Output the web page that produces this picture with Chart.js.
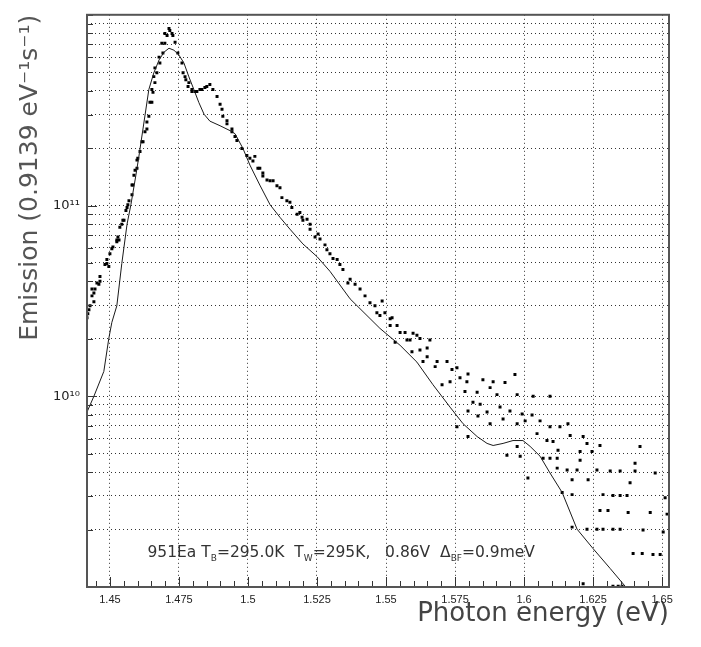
<!DOCTYPE html>
<html>
<head>
<meta charset="utf-8">
<script src="https://cdn.jsdelivr.net/npm/chart.js@4.4.0/dist/chart.umd.min.js"></script>
<style>
  html, body { margin: 0; padding: 0; background: #fff; }
</style>
</head>
<body>
<canvas id="myChart" width="701" height="647"></canvas>
<script>
// DATA -----------------------------------------------------------------START
// measured spectrum (dots): photon energy in eV, emission in 0.9139 eV^-1 s^-1
var measE = [
  1.4417, 1.4420, 1.4424, 1.4428, 1.4435, 1.4435, 1.4442, 1.4442, 1.4446, 1.4453,
  1.4460, 1.4464, 1.4464, 1.4482, 1.4489, 1.4489, 1.4496, 1.4500, 1.4507, 1.4511,
  1.4525, 1.4525, 1.4529, 1.4533, 1.4536, 1.4543, 1.4547, 1.4551, 1.4558, 1.4562,
  1.4565, 1.4569, 1.4580, 1.4580, 1.4583, 1.4587, 1.4591, 1.4598, 1.4598, 1.4601,
  1.4609, 1.4616, 1.4620, 1.4627, 1.4634, 1.4634, 1.4641, 1.4645, 1.4652, 1.4652,
  1.4656, 1.4659, 1.4663, 1.4663, 1.4670, 1.4678, 1.4681, 1.4688, 1.4692, 1.4699,
  1.4699, 1.4707, 1.4714, 1.4717, 1.4725, 1.4728, 1.4736, 1.4746, 1.4761, 1.4765,
  1.4772, 1.4775, 1.4783, 1.4786, 1.4797, 1.4797, 1.4808, 1.4815, 1.4826, 1.4833,
  1.4844, 1.4851, 1.4862, 1.4873, 1.4888, 1.4899, 1.4906, 1.4909, 1.4924, 1.4924,
  1.4942, 1.4942, 1.4953, 1.4960, 1.4978, 1.4996, 1.5018, 1.5025, 1.5036, 1.5054,
  1.5054, 1.5080, 1.5091, 1.5105, 1.5123, 1.5141, 1.5159, 1.5178, 1.5196, 1.5199,
  1.5225, 1.5225, 1.5243, 1.5254, 1.5261, 1.5286, 1.5297, 1.5308, 1.5323, 1.5344,
  1.5362, 1.5370, 1.5406, 1.5442, 1.5467, 1.5486, 1.5496, 1.5515, 1.5515, 1.5522,
  1.5533, 1.5540, 1.5551, 1.5569, 1.5576, 1.5587, 1.5594, 1.5598, 1.5612, 1.5623,
  1.5623, 1.5634, 1.5649, 1.5649, 1.5659, 1.5678, 1.5685, 1.5703, 1.5721, 1.5732,
  1.5739, 1.5757, 1.5757, 1.5768, 1.5786, 1.5793, 1.5797, 1.5797, 1.5797, 1.5815,
  1.5830, 1.5833, 1.5841, 1.5851, 1.5866, 1.5877, 1.5877, 1.5888, 1.5902, 1.5913,
  1.5924, 1.5931, 1.5938, 1.5949, 1.5967, 1.5975, 1.5975, 1.5975, 1.5986, 1.5993,
  1.6004, 1.6014, 1.6029, 1.6033, 1.6047, 1.6058, 1.6069, 1.6083, 1.6094, 1.6094,
  1.6094, 1.6105, 1.6120, 1.6120, 1.6123, 1.6130, 1.6138, 1.6156, 1.6159, 1.6167,
  1.6174, 1.6174, 1.6174, 1.6192, 1.6203, 1.6203, 1.6214, 1.6214, 1.6228, 1.6228,
  1.6232, 1.6246, 1.6264, 1.6264, 1.6275, 1.6275, 1.6286, 1.6286, 1.6304, 1.6312,
  1.6322, 1.6322, 1.6322, 1.6341, 1.6348, 1.6348, 1.6348, 1.6355, 1.6373, 1.6377,
  1.6384, 1.6395, 1.6402, 1.6402, 1.6420, 1.6428, 1.6431, 1.6457, 1.6467, 1.6475,
  1.6493, 1.6504, 1.6511, 1.6518,
  1.5007, 1.5043, 1.5069, 1.5116, 1.5152, 1.5188, 1.5214, 1.5279, 1.5333, 1.5388,
  1.5424, 1.5460, 1.5478
];
var measEm = [
  2.58e10, 2.71e10, 2.84e10, 2.98e10, 3.36e10, 3.65e10, 3.13e10, 3.48e10, 3.65e10, 3.92e10,
  3.87e10, 4.25e10, 4.01e10, 4.91e10, 5.21e10, 4.97e10, 4.79e10, 5.59e10, 5.93e10, 6.07e10,
  6.60e10, 6.45e10, 6.84e10, 6.60e10, 7.70e10, 7.98e10, 8.37e10, 8.37e10, 9.42e10, 9.76e10,
  1.01e11, 1.06e11, 1.14e11, 1.28e11, 1.28e11, 1.44e11, 1.53e11, 1.73e11, 1.57e11, 1.77e11,
  1.92e11, 2.16e11, 2.16e11, 2.44e11, 2.74e11, 2.52e11, 2.94e11, 3.48e11, 3.48e11, 4.06e11,
  3.92e11, 4.74e11, 4.41e11, 5.27e11, 4.97e11, 6.00e11, 5.59e11, 7.09e11, 6.30e11, 7.98e11,
  7.09e11, 7.79e11, 8.47e11, 8.27e11, 7.98e11, 7.79e11, 7.17e11, 6.30e11, 5.59e11, 4.97e11,
  4.74e11, 4.57e11, 4.21e11, 4.41e11, 4.06e11, 3.96e11, 3.96e11, 3.96e11, 4.06e11, 4.06e11,
  4.16e11, 4.21e11, 4.31e11, 4.06e11, 3.73e11, 3.40e11, 3.20e11, 2.94e11, 2.78e11, 2.68e11,
  2.52e11, 2.44e11, 2.30e11, 2.19e11, 1.99e11, 1.83e11, 1.71e11, 1.81e11, 1.57e11, 1.48e11,
  1.43e11, 1.35e11, 1.35e11, 1.27e11, 1.10e11, 1.06e11, 9.76e10, 8.99e10, 8.68e10, 8.37e10,
  7.98e10, 7.52e10, 6.84e10, 7.09e10, 6.68e10, 5.86e10, 5.59e10, 5.27e10, 5.21e10, 4.62e10,
  3.92e10, 4.11e10, 3.65e10, 3.09e10, 2.74e10, 3.16e10, 2.74e10, 2.55e10, 2.35e10, 2.58e10,
  1.92e10, 2.35e10, 2.16e10, 2.16e10, 1.97e10, 1.97e10, 1.71e10, 2.14e10, 2.09e10, 2.01e10,
  1.75e10, 1.52e10, 1.79e10, 1.61e10, 1.97e10, 1.43e10, 1.52e10, 1.15e10, 1.52e10, 1.19e10,
  1.38e10, 1.41e10, 6.92e9, 1.25e10, 1.06e10, 1.19e10, 1.31e10, 8.37e9, 6.15e9, 9.31e9,
  1.05e10, 7.88e9, 9.09e9, 1.22e10, 8.27e9, 1.11e10, 7.17e9, 1.19e10, 1.02e10, 8.78e9,
  7.61e9, 1.18e10, 4.91e9, 8.37e9, 1.30e10, 1.02e10, 7.17e9, 5.46e9, 4.85e9, 8.07e9,
  7.43e9, 3.73e9, 7.98e9, 1.00e10, 6.37e9, 7.43e9, 4.73e9, 5.86e9, 1.00e10, 6.92e9,
  4.73e9, 5.79e9, 4.73e9, 4.20e9, 5.21e9, 6.92e9, 3.13e9, 4.11e9, 7.17e9, 6.22e9,
  3.65e9, 3.05e9, 2.06e9, 4.11e9, 5.14e9, 4.62e9, 6.15e9, 1.04e9, 5.66e9, 2.01e9,
  3.65e9, 5.14e9, 4.11e9, 2.01e9, 5.52e9, 2.52e9, 3.05e9, 2.01e9, 2.52e9, 4.06e9,
  3.02e9, 2.01e9, 1.01e9, 1.01e9, 4.06e9, 3.02e9, 2.01e9, 1.01e9, 3.02e9, 2.46e9,
  3.52e9, 1.50e9, 4.46e9, 4.06e9, 5.46e9, 1.50e9, 1.99e9, 2.46e9, 1.48e9, 3.96e9,
  1.48e9, 1.94e9, 2.94e9, 2.41e9,
  1.77e11, 1.57e11, 1.36e11, 1.24e11, 1.04e11, 9.20e10, 8.47e10, 6.22e10, 4.91e10, 3.87e10,
  3.36e10, 2.98e10, 2.65e10
];

// model curve (solid line)
var modelE = [
  1.4417, 1.4442, 1.4478, 1.4496, 1.4507, 1.4525, 1.4543, 1.4562, 1.4576, 1.4594,
  1.4605, 1.4641, 1.4659, 1.4678, 1.4696, 1.4714, 1.4732, 1.4750, 1.4768, 1.4786,
  1.4804, 1.4822, 1.4841, 1.4862, 1.4899, 1.4935, 1.4953, 1.4982, 1.5007, 1.5043,
  1.5080, 1.5116, 1.5152, 1.5199, 1.5250, 1.5297, 1.5370, 1.5478, 1.5551, 1.5612,
  1.5670, 1.5732, 1.5779, 1.5830, 1.5866, 1.5888, 1.5924, 1.5960, 1.5996, 1.6022,
  1.6058, 1.6094, 1.6138, 1.6192, 1.6250, 1.6312, 1.6366
];
var modelEm = [
  8.27e9, 1.00e10, 1.35e10, 2.01e10, 2.44e10, 2.98e10, 4.96e10, 7.98e10, 1.01e11, 1.44e11,
  1.81e11, 4.06e11, 4.96e11, 5.80e11, 6.37e11, 6.68e11, 6.52e11, 6.15e11, 5.59e11, 4.73e11,
  4.06e11, 3.47e11, 3.01e11, 2.77e11, 2.62e11, 2.47e11, 2.38e11, 1.99e11, 1.63e11, 1.28e11,
  1.01e11, 8.67e10, 7.52e10, 6.29e10, 5.40e10, 4.52e10, 3.24e10, 2.27e10, 1.85e10, 1.51e10,
  1.15e10, 8.77e9, 7.18e9, 6.15e9, 5.66e9, 5.52e9, 5.66e9, 5.86e9, 5.86e9, 5.46e9,
  4.85e9, 3.96e9, 3.13e9, 2.01e9, 1.59e9, 1.25e9, 1.01e9
];

// axis ticks
var xTickValues = [1.45, 1.475, 1.5, 1.525, 1.55, 1.575, 1.6, 1.625, 1.65];
var yLabelValues = [1e10, 1e11];
var yLabelTexts = ['10\u00B9\u2070', '10\u00B9\u00B9'];
var yMantissa = [1, 2, 3, 4, 5, 6, 7, 8, 9];
var yDecades = [1e9, 1e10, 1e11];
// DATA -----------------------------------------------------------------END

var yGridValues = [];
yDecades.forEach(function (d) {
  yMantissa.forEach(function (m) { yGridValues.push(m * d); });
});
yGridValues.push(1e12);

function toPoints(xs, ys) {
  return xs.map(function (x, i) { return { x: x, y: ys[i] }; });
}

// ATUR BINGKAI, TICK DALAM, TEKS -----------------------------------------START
var bingkai = {
  id: 'bingkai',
  afterDatasetsDraw: function (chart) {
    var ctx = chart.ctx;
    var a = chart.chartArea;
    var sx = chart.scales.x;
    var sy = chart.scales.y;
    ctx.save();

    // inward ticks on bottom axis, every 0.005 eV
    ctx.strokeStyle = '#333';
    ctx.lineWidth = 1;
    ctx.beginPath();
    for (var k = 289; k <= 331; k++) {
      var px = Math.round(sx.getPixelForValue(k * 0.005)) + 0.5;
      if (px < a.left || px > a.right) continue;
      var len = (k % 5 === 0) ? 10 : 6;
      ctx.moveTo(px, a.bottom);
      ctx.lineTo(px, a.bottom - len);
    }
    // inward ticks on left axis
    yGridValues.forEach(function (v) {
      var py = Math.round(sy.getPixelForValue(v)) + 0.5;
      var l = yLabelValues.indexOf(v) >= 0 ? 10 : 6;
      ctx.moveTo(a.left, py);
      ctx.lineTo(a.left + l, py);
    });
    ctx.stroke();

    // run label with subscripts
    var parts = [
      ['951Ea T', 0], ['B', 1], ['=295.0K  T', 0], ['W', 1],
      ['=295K,   0.86V  \u0394', 0], ['BF', 1], ['=0.9meV', 0]
    ];
    var tx = sx.getPixelForValue(1.4636);
    var ty = sy.getPixelForValue(1.5e9);
    ctx.fillStyle = '#333';
    ctx.textBaseline = 'middle';
    ctx.textAlign = 'left';
    parts.forEach(function (p) {
      ctx.font = p[1] ? '9px "DejaVu Sans"' : '15.5px "DejaVu Sans"';
      ctx.fillText(p[0], tx, ty + (p[1] ? 5 : 0));
      tx += ctx.measureText(p[0]).width;
    });

    // frame
    ctx.strokeStyle = '#555';
    ctx.lineWidth = 2;
    ctx.strokeRect(a.left, a.top, a.right - a.left, a.bottom - a.top);
    ctx.restore();
  }
};
// ATUR BINGKAI, TICK DALAM, TEKS -----------------------------------------END

// ATUR DIAGRAM ----------------------------------------------------------START
var ctx = document.getElementById('myChart').getContext('2d');
var myChart = new Chart(ctx, {
  type: 'scatter',
  data: {
    datasets: [{
      label: 'model',
      data: toPoints(modelE, modelEm),
      showLine: true,
      borderColor: '#1a1a1a',
      borderWidth: 1,
      pointRadius: 0,
      tension: 0
    }, {
      label: 'measured',
      data: toPoints(measE, measEm),
      showLine: false,
      pointStyle: 'rect',
      pointRadius: 2.1,
      borderWidth: 0,
      backgroundColor: '#000'
    }]
  },
  options: {
    responsive: false,
    animation: false,
    events: [],
    layout: { padding: { top: 3, right: 32, left: 0, bottom: 0 } },
    plugins: {
      legend: { display: false },
      tooltip: { enabled: false }
    },
    scales: {
      x: {
        type: 'linear',
        min: 1.4417,
        max: 1.6525,
        afterBuildTicks: function (axis) {
          axis.ticks = xTickValues.map(function (v) { return { value: v }; });
        },
        afterFit: function (axis) { axis.height = 60; },
        ticks: {
          autoSkip: false,
          maxRotation: 0,
          padding: 6,
          color: '#222',
          font: { family: 'Liberation Sans', size: 11 },
          callback: function (value) { return String(value); }
        },
        grid: { color: '#333', lineWidth: 1, drawTicks: false },
        border: { display: false, dash: [1, 3] },
        title: {
          display: true,
          text: 'Photon energy (eV)',
          align: 'end',
          color: '#444',
          font: { family: 'DejaVu Sans', size: 26 },
          padding: { top: 0, bottom: 17 }
        }
      },
      y: {
        type: 'logarithmic',
        min: 1e9,
        max: 1e12,
        afterBuildTicks: function (axis) {
          axis.ticks = yGridValues.map(function (v) { return { value: v }; });
        },
        afterFit: function (axis) { axis.width = 87; },
        ticks: {
          autoSkip: false,
          padding: 7,
          color: '#222',
          font: { family: 'DejaVu Sans', size: 13 },
          callback: function (value) {
            var i = yLabelValues.indexOf(value);
            return i >= 0 ? yLabelTexts[i] : '';
          }
        },
        grid: { color: '#333', lineWidth: 1, drawTicks: false },
        border: { display: false, dash: [1, 3] },
        title: {
          display: true,
          text: 'Emission (0.9139 eV\u207B\u00B9s\u207B\u00B9)',
          align: 'end',
          color: '#555',
          font: { family: 'DejaVu Sans', size: 25 },
          padding: { top: 15, bottom: 0 }
        }
      }
    }
  },
  plugins: [bingkai]
});
// ATUR DIAGRAM ----------------------------------------------------------END
</script>
</body>
</html>
